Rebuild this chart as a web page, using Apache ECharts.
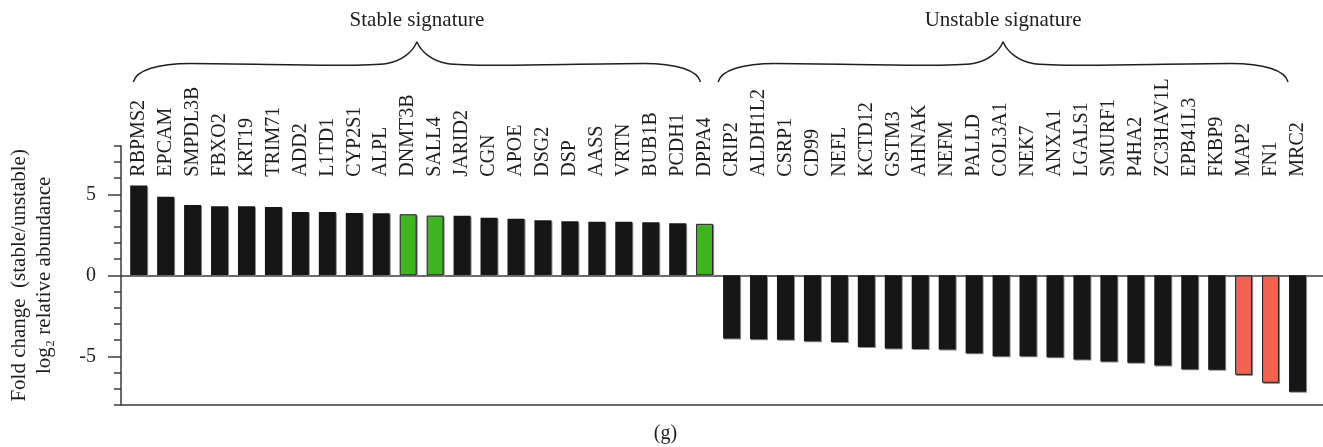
<!DOCTYPE html>
<html><head><meta charset="utf-8">
<script src="https://cdn.jsdelivr.net/npm/echarts@6/dist/echarts.min.js"></script>
<style>html,body{margin:0;padding:0;background:#fff}#c{width:1323px;height:447px}</style>
</head><body><div id="c"></div>
<script>
// ---------- data ----------
const genes = ['RBPMS2','EPCAM','SMPDL3B','FBXO2','KRT19','TRIM71','ADD2','L1TD1','CYP2S1','ALPL','DNMT3B','SALL4','JARID2','CGN','APOE','DSG2','DSP','AASS','VRTN','BUB1B','PCDH1','DPPA4',
  'CRIP2','ALDH1L2','CSRP1','CD99','NEFL','KCTD12','GSTM3','AHNAK','NEFM','PALLD','COL3A1','NEK7','ANXA1','LGALS1','SMURF1','P4HA2','ZC3HAV1L','EPB41L3','FKBP9','MAP2','FN1','MRC2'];
const stableValues = [5.55,4.85,4.34,4.26,4.26,4.22,3.91,3.91,3.85,3.83,3.77,3.69,3.67,3.56,3.50,3.40,3.34,3.30,3.30,3.28,3.22,3.18];
const unstableValues = [-3.89,-3.95,-3.97,-4.07,-4.11,-4.42,-4.52,-4.54,-4.58,-4.81,-4.99,-4.99,-5.06,-5.20,-5.32,-5.40,-5.57,-5.79,-5.83,-6.14,-6.63,-7.19];
const greenGenes = ['DNMT3B','SALL4','DPPA4'];
const redGenes = ['MAP2','FN1'];
const yTickValues = [-5, 0, 5];
const groupTitles = ['Stable signature', 'Unstable signature'];
const groupIndexSpans = [[-0.2, 20.85], [21.5, 42.65]];
const panelLabel = '(g)';
const yTitle = 'Fold change  (stable/unstable)\nlog\u2082 relative abundance';

// ---------- chart ----------
const FONT = "'Liberation Serif','Times New Roman',serif";
const values = stableValues.concat(unstableValues);
const shadow = {shadowColor:'#8a8a8a', shadowBlur:0, shadowOffsetX:1, shadowOffsetY:1};
const barData = values.map((v, i) => {
  const g = genes[i];
  let style;
  if (greenGenes.includes(g)) style = Object.assign({color:'#3db51f', borderColor:'#1e1e1e', borderWidth:1}, shadow);
  else if (redGenes.includes(g)) style = Object.assign({color:'#f26352', borderColor:'#1e1e1e', borderWidth:1}, shadow);
  else style = Object.assign({color:'#161616'}, shadow);
  return {value: v, itemStyle: style};
});

const chart = echarts.init(document.getElementById('c'), null, {renderer:'canvas'});
const lineStyle = {color:'#3a3a3a', width:1.5};
chart.setOption({
  animation: false,
  backgroundColor: '#fff',
  grid: [
    {left:125.2, right:12, top:145.7, bottom:42, containLabel:false, outerBoundsMode:'none'},
    {left:121, right:0, top:145.7, bottom:42, containLabel:false, outerBoundsMode:'none'}
  ],
  xAxis: [
    {type:'category', gridIndex:0, data:genes, position:'top',
     axisLine:{show:false}, axisTick:{show:false}, splitLine:{show:false},
     axisLabel:{rotate:90, margin:-31, interval:0, hideOverlap:false,
       fontFamily:FONT, fontSize:20, color:'#1e1e1e'}},
    {type:'value', gridIndex:1, min:0, max:1, position:'bottom',
     axisLine:{show:true, onZero:false, lineStyle:lineStyle}, axisTick:{show:false},
     axisLabel:{show:false}, splitLine:{show:false}},
    {type:'value', gridIndex:1, min:0, max:1, position:'top',
     axisLine:{show:true, onZero:true, lineStyle:lineStyle}, axisTick:{show:false},
     axisLabel:{show:false}, splitLine:{show:false}}
  ],
  yAxis: [
    {type:'value', gridIndex:0, min:-8, max:8, interval:1, offset:4.2,
     axisLine:{show:false}, axisLabel:{show:false}, splitLine:{show:false},
     axisTick:{show:true, length:7, lineStyle:lineStyle}},
    {type:'value', gridIndex:1, min:-8, max:8, position:'left',
     axisLine:{show:true, onZero:false, lineStyle:lineStyle},
     axisTick:{show:true, length:13, customValues:yTickValues, lineStyle:lineStyle},
     axisLabel:{customValues:yTickValues, margin:25, fontFamily:FONT, fontSize:20, color:'#1e1e1e'},
     splitLine:{show:false},
     name:yTitle, nameLocation:'middle', nameRotate:90, nameGap:64,
     nameTextStyle:{fontFamily:FONT, fontSize:21, lineHeight:25, color:'#1e1e1e', align:'center'}}
  ],
  series: [
    {type:'bar', xAxisIndex:0, yAxisIndex:0, data:barData, barWidth:17}
  ]
});

// ---------- annotations (braces, group titles, panel label) ----------
function braceSegments(xa, xb, yEnd, yFlat, yPeak) {
  const xm = (xa + xb) / 2, L = xm - xa;
  const segs = [];
  [1, -1].forEach(s => {
    const x0 = s > 0 ? xa : xb;
    segs.push([x0, yEnd, x0 + s*3, yEnd - 12, x0 + s*25, yFlat, x0 + s*0.2*L, yFlat]);
    segs.push([x0 + s*0.2*L, yFlat, x0 + s*0.45*L, yFlat, xm - s*55, yFlat + 4.5, xm - s*30, yFlat]);
    segs.push([xm - s*30, yFlat, xm - s*15, yFlat - 2.7, xm - s*4, yPeak + 10, xm, yPeak]);
  });
  return segs;
}
const p0 = chart.convertToPixel({xAxisIndex:0}, 0);
const p1 = chart.convertToPixel({xAxisIndex:0}, 1);
const pitch = p1 - p0;
const idxToX = i => p0 + i * pitch;
const graphics = [];
groupIndexSpans.forEach((span, k) => {
  const xa = idxToX(span[0]), xb = idxToX(span[1]);
  braceSegments(xa, xb, 82, 63.5, 41.7).forEach(s => {
    graphics.push({type:'bezierCurve',
      shape:{x1:s[0], y1:s[1], cpx1:s[2], cpy1:s[3], cpx2:s[4], cpy2:s[5], x2:s[6], y2:s[7]},
      style:{fill:null, stroke:'#1e1e1e', lineWidth:1.4}});
  });
  graphics.push({type:'text', x:(xa+xb)/2, y:20,
    style:{text:groupTitles[k], font:`21px ${FONT}`, fill:'#1e1e1e', align:'center', verticalAlign:'middle'}});
});
graphics.push({type:'text', x:chart.getWidth()/2 + 4, y:434,
  style:{text:panelLabel, font:`20px ${FONT}`, fill:'#1e1e1e', align:'center', verticalAlign:'middle'}});
chart.setOption({graphic: graphics});
</script></body></html>
